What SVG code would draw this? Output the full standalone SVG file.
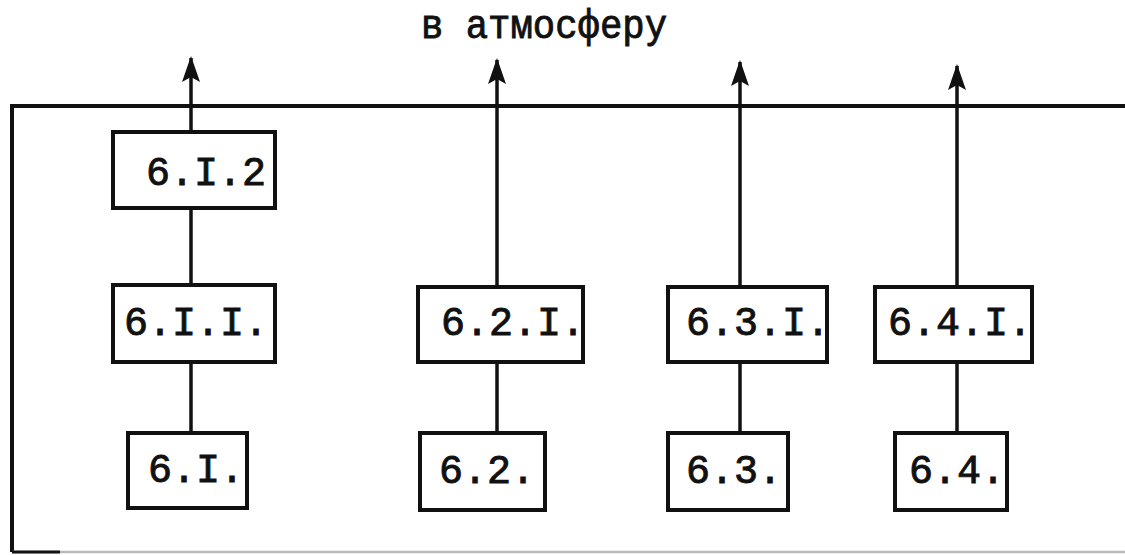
<svg xmlns="http://www.w3.org/2000/svg" width="1125" height="555" viewBox="0 0 1125 555">
<defs>
<style>
.box{fill:#fff;stroke:#111;stroke-width:4}
.lbl{font-family:"Liberation Mono","DejaVu Sans Mono",monospace;font-size:40px;fill:#111;stroke:#111;stroke-width:0.9}
.ln{stroke:#111;stroke-width:3.5;fill:none}
.frame{stroke:#111;stroke-width:4;fill:none}
</style>
<marker id="ah" markerUnits="userSpaceOnUse" markerWidth="28" markerHeight="20" refX="24" refY="10" orient="auto">
<path d="M0,1 L26,10 L0,19 L5,10 z" fill="#111"/>
</marker>
</defs>
<rect width="1125" height="555" fill="#fff"/>
<g id="frame">
<path class="frame" d="M1125,106 H12 V552"/>
<line x1="12" y1="552" x2="1125" y2="552" stroke="#bbb" stroke-width="2.5"/>
<line x1="12" y1="552" x2="60" y2="552" stroke="#111" stroke-width="3"/>
</g>
<text id="title" class="lbl" x="421" y="38" font-size="38" textLength="246" lengthAdjust="spacingAndGlyphs">в атмосферу</text>
<g id="connectors">
<line class="ln" x1="191" y1="132" x2="191" y2="58" marker-end="url(#ah)"/>
<line class="ln" x1="191" y1="208" x2="191" y2="285"/>
<line class="ln" x1="191" y1="362" x2="191" y2="433"/>
<line class="ln" x1="497" y1="287" x2="497" y2="60" marker-end="url(#ah)"/>
<line class="ln" x1="497" y1="362" x2="497" y2="433"/>
<line class="ln" x1="740" y1="287" x2="740" y2="62" marker-end="url(#ah)"/>
<line class="ln" x1="740" y1="362" x2="740" y2="433"/>
<line class="ln" x1="957" y1="287" x2="957" y2="66" marker-end="url(#ah)"/>
<line class="ln" x1="957" y1="362" x2="957" y2="433"/>
</g>
<g id="n612"><rect class="box" x="113" y="132" width="162" height="76"/><text class="lbl" x="146" y="185">6.I.2</text></g>
<g id="n611"><rect class="box" x="113" y="285" width="162" height="77"/><text class="lbl" x="124" y="335">6.I.I.</text></g>
<g id="n61"><rect class="box" x="128" y="433" width="119" height="75"/><text class="lbl" x="148" y="482">6.I.</text></g>
<g id="n621"><rect class="box" x="418" y="287" width="165" height="75"/><text class="lbl" x="441" y="335">6.2.I.</text></g>
<g id="n62"><rect class="box" x="420" y="433" width="125" height="77"/><text class="lbl" x="439" y="483">6.2.</text></g>
<g id="n631"><rect class="box" x="668" y="287" width="159" height="75"/><text class="lbl" x="686" y="335">6.3.I.</text></g>
<g id="n63"><rect class="box" x="668" y="433" width="120" height="77"/><text class="lbl" x="686" y="483">6.3.</text></g>
<g id="n641"><rect class="box" x="875" y="287" width="157" height="75"/><text class="lbl" x="888" y="335">6.4.I.</text></g>
<g id="n64"><rect class="box" x="895" y="433" width="112" height="77"/><text class="lbl" x="909" y="483">6.4.</text></g>
</svg>
